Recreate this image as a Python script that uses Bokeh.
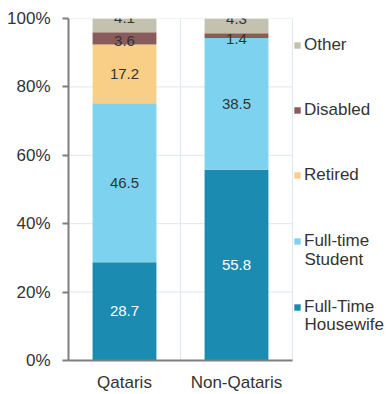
from bokeh.plotting import figure
from bokeh.models import ColumnDataSource, Legend, LegendItem, Label, LabelSet, FixedTicker
from bokeh.core.properties import value
from bokeh.embed import file_html
from bokeh.resources import INLINE

# ---- data ----
groups = ["Qataris", "Non-Qataris"]
housewife = [28.7, 55.8]
student = [46.5, 38.5]
retired = [17.2, 0.0]
disabled = [3.6, 1.4]
other = [4.1, 4.3]
series_names = ["Full-Time Housewife", "Full-time Student", "Retired", "Disabled", "Other"]
legend_lines = [["Full-Time", "Housewife"], ["Full-time", "Student"], ["Retired"], ["Disabled"], ["Other"]]
y_ticks = [0, 20, 40, 60, 80, 100]
y_tick_labels = ["0%", "20%", "40%", "60%", "80%", "100%"]

# ---- style ----
colors = ["#1C8BB1", "#7DD3EF", "#F9CF87", "#8A5B5B", "#C5C1AF"]
label_colors = ["#FFFFFF", "#333333", "#333333", "#333333", "#333333"]
label_offsets = [0, 0, 0, -3, 7]
FONT = "Liberation Sans"
TXT = "#333333"
GRID = "#DDE7F1"
AXIS = "#7F7F7F"

W, H = 389, 394
LEFT, TOP, BOTTOM = 68, 18, 32
CAT_PX = 112  # pixel width of one category slot

values = [housewife, student, retired, disabled, other]
n = len(groups)
xs = [i + 0.5 for i in range(n)]

frame_w = W - LEFT
frame_h = H - TOP - BOTTOM
x_end = frame_w / CAT_PX

data = {"x": xs}
for name, vals in zip(series_names, values):
    data[name] = vals
source = ColumnDataSource(data)

p = figure(width=W, height=H, x_range=(0, x_end), y_range=(0, 100),
           output_backend="svg", toolbar_location=None,
           min_border_left=LEFT, min_border_right=0, min_border_top=TOP, min_border_bottom=BOTTOM)

# grid lines limited to the category area
p.xgrid.visible = False
p.ygrid.visible = False
p.segment(x0=[0] * len(y_ticks), x1=[n] * len(y_ticks), y0=y_ticks, y1=y_ticks,
          line_color=GRID, line_width=1, level="underlay")
p.segment(x0=list(range(1, n + 1)), x1=list(range(1, n + 1)), y0=[0] * n, y1=[100] * n,
          line_color=GRID, line_width=1, level="underlay")

renderers = p.vbar_stack(series_names, x="x", width=0.57, color=colors, line_color=None, source=source)

# value labels
for si, (name, vals) in enumerate(zip(series_names, values)):
    lx, ly, lt = [], [], []
    for gi, v in enumerate(vals):
        if v <= 0:
            continue
        base = sum(values[k][gi] for k in range(si))
        lx.append(xs[gi])
        ly.append(base + v / 2)
        lt.append(f"{v:.1f}")
    ls = ColumnDataSource(dict(x=lx, y=ly, t=lt))
    p.add_layout(LabelSet(x="x", y="y", text="t", source=ls, text_align="center",
                          text_baseline="middle", text_font=value(FONT), text_font_size=value("15px"),
                          text_color=value(label_colors[si]), y_offset=label_offsets[si]))

# axes
p.yaxis.ticker = FixedTicker(ticks=y_ticks)
p.yaxis.major_label_overrides = {t: l for t, l in zip(y_ticks, y_tick_labels)}
p.yaxis.major_tick_in = 0
p.yaxis.major_tick_out = 6
p.yaxis.minor_tick_line_color = None
p.yaxis.axis_line_color = AXIS
p.yaxis.axis_line_width = 2
p.yaxis.major_tick_line_color = AXIS
p.yaxis.major_tick_line_width = 2
p.yaxis.major_label_text_font = FONT
p.yaxis.major_label_text_font_size = "17px"
p.yaxis.major_label_text_color = TXT
p.yaxis.major_label_standoff = 12

p.xaxis.bounds = (0, n)
p.xaxis.ticker = FixedTicker(ticks=xs)
p.xaxis.major_label_overrides = {x: g for x, g in zip(xs, groups)}
p.xaxis.major_tick_in = 0
p.xaxis.major_tick_out = 0
p.xaxis.minor_tick_line_color = None
p.xaxis.axis_line_color = AXIS
p.xaxis.axis_line_width = 2
p.xaxis.major_label_text_font = FONT
p.xaxis.major_label_text_font_size = "17px"
p.xaxis.major_label_text_color = TXT
p.xaxis.major_label_standoff = 12

p.outline_line_color = None

# legend: one legend per item, top (Other) to bottom (Housewife)
first_line_centers = [306, 240, 174, 109, 44]  # screen y of first line (pixels from top)
leg_x = n * CAT_PX + 1
for si in range(len(series_names)):
    cy = first_line_centers[si] - TOP
    bottom_from_frame_bottom = frame_h - (cy + 13)
    leg = Legend(items=[LegendItem(label=legend_lines[si][0], renderers=[renderers[si]])],
                 location=(leg_x, bottom_from_frame_bottom),
                 background_fill_alpha=0, border_line_color=None, padding=0, margin=0,
                 glyph_width=8, glyph_height=8, label_standoff=3, label_height=20,
                 label_text_font=FONT, label_text_font_size="17px", label_text_color=TXT,
                 spacing=0)
    p.add_layout(leg)
    if len(legend_lines[si]) > 1:
        p.add_layout(Label(x=(leg_x + 11) / CAT_PX,
                           y=(frame_h - (cy + 20)) / frame_h * 100,
                           text=legend_lines[si][1], text_font=FONT, text_font_size="17px",
                           text_color=TXT, text_align="left", text_baseline="middle"))

open("out.html", "w").write(file_html(p, INLINE))
